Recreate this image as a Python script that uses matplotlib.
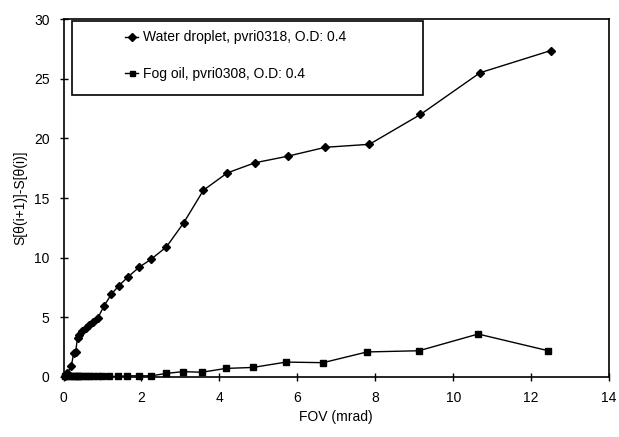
import matplotlib
matplotlib.use('Agg')
import matplotlib.pyplot as plt
from matplotlib.patches import Rectangle

matplotlib.rcParams['font.family'] = ['Liberation Sans', 'DejaVu Sans']
matplotlib.rcParams['font.size'] = 10

# water droplet run, pvri0318
water_fov = [0.05, 0.1, 0.2, 0.26, 0.31, 0.36, 0.4, 0.48, 0.57, 0.65, 0.75,
             0.88, 1.04, 1.23, 1.42, 1.66, 1.94, 2.24, 2.64, 3.08, 3.59,
             4.20, 4.91, 5.75, 6.72, 7.85, 9.16, 10.69, 12.5]
water_ds = [0.05, 0.3, 0.9, 2.0, 2.1, 3.3, 3.5, 3.85, 4.1, 4.35, 4.65,
            4.95, 5.95, 6.95, 7.65, 8.4, 9.2, 9.85, 10.9, 12.9, 15.65,
            17.1, 17.95, 18.5, 19.25, 19.5, 22.0, 25.5, 27.35]

# fog oil run, pvri0308
fog_fov = [0.05, 0.1, 0.15, 0.2, 0.26, 0.31, 0.36, 0.41, 0.48, 0.57, 0.65,
           0.75, 0.88, 1.0, 1.18, 1.41, 1.64, 1.93, 2.25, 2.64, 3.06, 3.55,
           4.17, 4.86, 5.71, 6.66, 7.79, 9.12, 10.64, 12.44]
fog_ds = [0.1, 0.15, 0.1, 0.05, 0.05, 0.05, 0.05, 0.05, 0.05, 0.05, 0.05,
          0.05, 0.05, 0.05, 0.05, 0.05, 0.1, 0.1, 0.1, 0.3, 0.45, 0.4,
          0.72, 0.8, 1.25, 1.2, 2.1, 2.2, 3.6, 2.2]

labels = ['Water droplet, pvri0318, O.D: 0.4', 'Fog oil, pvri0308, O.D: 0.4']

fig = plt.figure(figsize=(6.19, 4.37), dpi=100)
ax = fig.add_axes([0.1026, 0.1373, 0.8814, 0.8192])

ax.plot(water_fov, water_ds, color='black', lw=1.0, marker='D',
        markersize=4.5, label=labels[0], clip_on=False)
ax.plot(fog_fov, fog_ds, color='black', lw=1.0, marker='s',
        markersize=4.5, label=labels[1], clip_on=False)

ax.set_xlim(0, 14)
ax.set_ylim(0, 30)
ax.set_xticks(range(0, 15, 2))
ax.set_yticks(range(0, 31, 5))
ax.tick_params(direction='inout', length=6, width=1, pad=7, labelsize=10)
for s in ax.spines.values():
    s.set_linewidth(1.2)

ax.set_xlabel('FOV (mrad)', labelpad=4)
ax.set_ylabel(u'S[\u03b8(i+1)]-S[\u03b8(i)]', labelpad=5)

# legend box drawn separately so it can be wider than its entries
ax.add_patch(Rectangle((0.0156, 0.788), 0.643, 0.207, transform=ax.transAxes,
                       facecolor='white', edgecolor='black', lw=1.2,
                       zorder=3))
leg = ax.legend(loc='upper left', bbox_to_anchor=(0.089, 1.003),
                frameon=False, handlelength=1.0, handletextpad=0.3,
                labelspacing=1.65, fontsize=10, markerscale=0.8)
leg.set_zorder(4)

fig.savefig('out.png', dpi=100)
